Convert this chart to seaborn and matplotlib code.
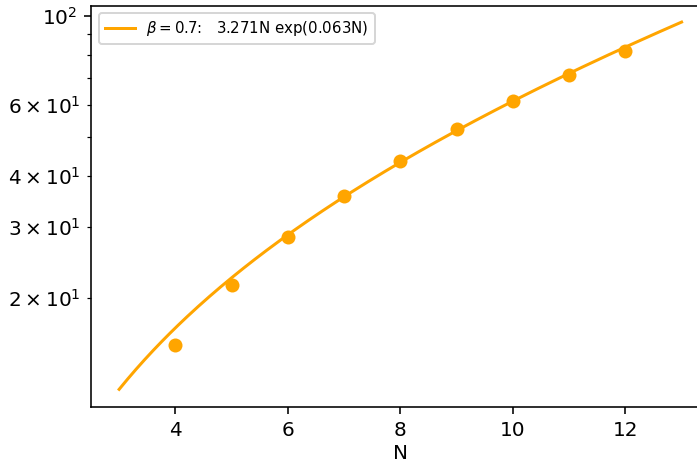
import numpy as np
import pandas as pd
import matplotlib
matplotlib.use("Agg")
import matplotlib.pyplot as plt
import seaborn as sns

# measured values
N_points = [4, 5, 6, 7, 8, 9, 10, 11, 12]
values = [15.3, 21.5, 28.3, 35.7, 43.7, 52.3, 61.4, 71.3, 81.9]

# fitted model a * N * exp(b * N) for beta = 0.7
beta = 0.7
coef_a = 3.271
coef_b = 0.063
N_fit_range = [3, 13]

N_fit = np.linspace(N_fit_range[0], N_fit_range[1], 200)
fit_vals = coef_a * N_fit * np.exp(coef_b * N_fit)

df_pts = pd.DataFrame({"N": N_points, "value": values})
df_fit = pd.DataFrame({"N": N_fit, "value": fit_vals})

color = "#FFA500"

fig = plt.figure(figsize=(697 / 144, 464 / 144), dpi=144)
ax = fig.add_axes([91 / 697, 1 - 407.3 / 464, (709.7 - 91) / 697, (407.3 - 5.7) / 464])

label = rf"$\beta = {beta}$:   {coef_a}N exp({coef_b}N)"
sns.lineplot(data=df_fit, x="N", y="value", ax=ax, color=color, linewidth=1.5,
             label=label)
sns.scatterplot(data=df_pts, x="N", y="value", ax=ax, color=color, s=49,
                linewidth=0, zorder=3)

ax.set_yscale("log")
ax.set_ylim(10.7, 105.9)
ax.set_xlim(2.5, 13.5)
ax.set_xlabel("N", labelpad=2)
ax.set_ylabel("")
ax.set_xticks([4, 6, 8, 10, 12])
ax.legend(loc="upper left", fontsize=7.5)

fig.savefig("out.png", dpi=144)
